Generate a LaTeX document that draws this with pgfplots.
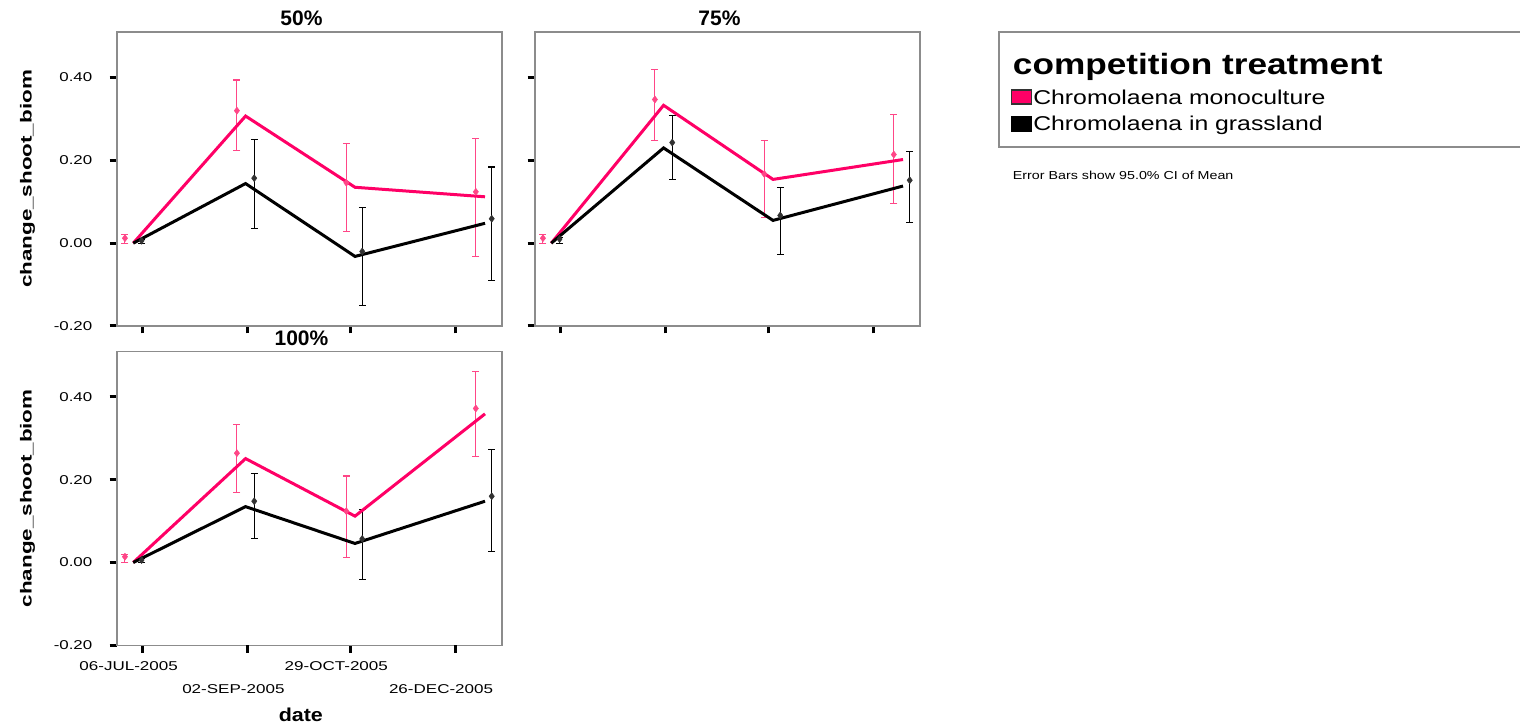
\documentclass[border=0pt]{standalone}
\usepackage{fontspec}
\setmainfont{Liberation Sans}
\usepackage{graphicx}
\usepackage{pgfplots}
\pgfplotsset{compat=1.18}
\definecolor{spink}{RGB}{255,0,102}
\definecolor{spinkbar}{RGB}{255,70,135}
\definecolor{framegray}{RGB}{140,140,140}
\definecolor{dmark}{RGB}{50,50,50}
\newcommand\sx[2]{\scalebox{#1}[1]{#2}}
\pgfplotsset{
  panel/.style={
    scale only axis, width=288.75pt, height=220.5pt,
    xmin=-14.2, xmax=199, ymin=-0.2, ymax=0.51,
    xtick={0,58,115,173}, ytick={-0.2,0,0.2,0.4},
    xticklabels={}, yticklabels={},
    tick align=outside, xtick pos=left, ytick pos=left,
    major tick length=5.5pt,
    tick style={black, line width=2.25pt},
    axis line style={draw=framegray, line width=1.1pt},
    every axis title/.style={at={(rel axis cs:0.5,1)}, anchor=base, yshift=4.5pt, xshift=-6pt, font=\fontsize{15.75}{18}\selectfont\bfseries},
    every axis y label/.style={at={(rel axis cs:0,0.5)}, xshift=-67.1pt, rotate=90, anchor=center, font=\fontsize{12}{14}\selectfont\bfseries},
    ticklabel style={font=\fontsize{9.6}{11}\selectfont},
    yticklabel style={xshift=-9.5pt},
    xticklabel style={xshift=-10.5pt, yshift=-3pt},
  },
  yl/.style={yticklabels={\sx{1.32}{-0.20},\sx{1.32}{0.00},\sx{1.32}{0.20},\sx{1.32}{0.40}}},
  pinkline/.style={spink, line width=2.25pt},
  blackline/.style={black, line width=2.25pt},
  pinkbars/.style={only marks, mark=diamond*, mark size=2.6pt, mark options={spinkbar},
    error bars/.cd, y dir=both, y explicit,
    error bar style={spinkbar, line width=0.8pt},
    error mark options={rotate=90, spinkbar, mark size=2.6pt, line width=0.8pt}},
  blackbars/.style={only marks, mark=diamond*, mark size=2.6pt, mark options={dmark},
    error bars/.cd, y dir=both, y explicit,
    error bar style={black, line width=0.8pt},
    error mark options={rotate=90, black, mark size=2.6pt, line width=0.8pt}},
}
\begin{document}
\begin{tikzpicture}
\useasboundingbox (0,0) rectangle (1140pt,543pt);
% ---------- 50% ----------
\begin{axis}[panel, yl, at={(87.75pt,298.5pt)}, anchor=south west,
  title={50\%}, ylabel={\sx{1.4}{change\_shoot\_biom}}]
\addplot[pinkbars] table[x=x,y=y,y error plus=ep,y error minus=em] {
x y ep em
-9.8 0.012 0.008 0.012
52.2 0.320 0.074 0.096
112.8 0.146 0.094 0.117
184.5 0.124 0.129 0.157
};
\addplot[blackbars] table[x=x,y=y,y error plus=ep,y error minus=em] {
x y ep em
-0.6 0.006 0.004 0.006
61.8 0.157 0.094 0.122
121.6 -0.020 0.106 0.131
193.3 0.059 0.125 0.149
};
\addplot[pinkline] coordinates {(-5.2,0) (57,0.307) (117.6,0.135) (189.6,0.112)};
\addplot[blackline] coordinates {(-5.2,0) (57,0.144) (117.6,-0.032) (189.6,0.048)};
\end{axis}
% ---------- 75% ----------
\begin{axis}[panel, at={(401.25pt,298.5pt)}, anchor=south west, title={75\%}]
\addplot[pinkbars] table[x=x,y=y,y error plus=ep,y error minus=em] {
x y ep em
-9.8 0.012 0.008 0.012
52.2 0.347 0.073 0.100
112.8 0.167 0.080 0.104
184.5 0.214 0.097 0.118
};
\addplot[blackbars] table[x=x,y=y,y error plus=ep,y error minus=em] {
x y ep em
-0.6 0.010 0.004 0.010
61.8 0.243 0.065 0.090
121.6 0.067 0.068 0.094
193.3 0.152 0.069 0.101
};
\addplot[pinkline] coordinates {(-5.2,0) (57,0.333) (117.6,0.154) (189.6,0.202)};
\addplot[blackline] coordinates {(-5.2,0) (57,0.230) (117.6,0.055) (189.6,0.138)};
\end{axis}
% ---------- 100% ----------
\begin{axis}[panel, yl, at={(87.75pt,59pt)}, anchor=south west,
  title={100\%}, ylabel={\sx{1.4}{change\_shoot\_biom}},
  xtick={0,115}, xticklabels={\sx{1.33}{06-JUL-2005},\sx{1.33}{29-OCT-2005}},
  extra x ticks={58,173}, extra x tick labels={\sx{1.33}{02-SEP-2005},\sx{1.33}{26-DEC-2005}},
  extra x tick style={xticklabel style={yshift=-17.5pt}},
  xlabel={\sx{1.15}{date}},
  every axis x label/.style={at={(rel axis cs:0.5,0)}, anchor=base, yshift=-57.3pt, xshift=-6.5pt, font=\fontsize{14}{16}\selectfont\bfseries}]
\addplot[pinkbars] table[x=x,y=y,y error plus=ep,y error minus=em] {
x y ep em
-9.8 0.014 0.006 0.014
52.2 0.264 0.070 0.094
112.8 0.124 0.085 0.111
184.5 0.372 0.090 0.115
};
\addplot[blackbars] table[x=x,y=y,y error plus=ep,y error minus=em] {
x y ep em
-0.6 0.006 0.004 0.006
61.8 0.148 0.067 0.090
121.6 0.057 0.072 0.097
193.3 0.160 0.114 0.134
};
\addplot[pinkline] coordinates {(-5.2,0) (57,0.251) (117.6,0.112) (189.6,0.359)};
\addplot[blackline] coordinates {(-5.2,0) (57,0.135) (117.6,0.046) (189.6,0.148)};
\end{axis}
% ---------- legend ----------
\draw[framegray, line width=1.3pt] (1150pt,519.2pt) -- (749.5pt,519.2pt) -- (749.5pt,433pt) -- (1150pt,433pt);
\node[anchor=base west, inner sep=0pt, font=\fontsize{22}{26}\selectfont\bfseries] at (759.5pt,486.75pt) {\sx{1.2}{competition treatment}};
\draw[draw=black!80, fill=spink, line width=0.8pt] (758.8pt,465pt) rectangle (773.8pt,475.5pt);
\node[anchor=base west, inner sep=0pt, font=\fontsize{15}{18}\selectfont] at (774.75pt,464.8pt) {\sx{1.24}{Chromolaena monoculture}};
\draw[draw=black, fill=black, line width=0.8pt] (758.8pt,444.75pt) rectangle (773.8pt,455.5pt);
\node[anchor=base west, inner sep=0pt, font=\fontsize{15}{18}\selectfont] at (774.75pt,444.75pt) {\sx{1.24}{Chromolaena in grassland}};
\node[anchor=base west, inner sep=0pt, font=\fontsize{8.7}{10}\selectfont] at (759.5pt,408pt) {\sx{1.23}{Error Bars show 95.0\% CI of Mean}};
\end{tikzpicture}
\end{document}
